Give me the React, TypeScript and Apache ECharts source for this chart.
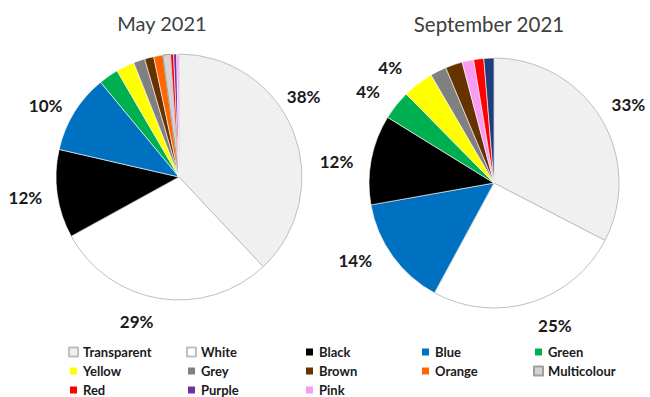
import React, { useEffect, useRef } from "react";
import * as echarts from "echarts";

const mayTitle = "May 2021";
const sepTitle = "September 2021";

const mayNames = ["Transparent", "White", "Black", "Blue", "Green", "Yellow", "Grey", "Brown", "Orange", "Multicolour", "Red", "Purple", "Pink"];
const mayValues = [38, 29, 11.6, 10.4, 2.6, 2.4, 1.5, 1.2, 1.2, 1.0, 0.4, 0.4, 0.3];

const sepNames = ["Transparent", "White", "Blue", "Black", "Green", "Yellow", "Grey", "Brown", "Pink", "Red", "Purple"];
const sepValues = [32.6, 25.3, 14.3, 11.6, 3.8, 4.0, 2.1, 2.2, 1.5, 1.3, 1.3];

const legendColumns = [
  ["Transparent", "Yellow", "Red"],
  ["White", "Grey", "Purple"],
  ["Black", "Brown", "Pink"],
  ["Blue", "Orange"],
  ["Green", "Multicolour"],
];

const COLORS: Record<string, string> = {
  Transparent: "#F0F0F0",
  White: "#FFFFFF",
  Black: "#000000",
  Blue: "#0070C0",
  Green: "#00B050",
  Yellow: "#FFFF00",
  Grey: "#808080",
  Brown: "#663300",
  Orange: "#FF6600",
  Multicolour: "#D4D4D4",
  Red: "#FF0000",
  Purple: "#7030A0",
  Pink: "#F79BF3",
};
const SEP_OVERRIDE: Record<string, string> = { Purple: "#1F3D7A" };
const OUTLINED: Record<string, string> = { Transparent: "#BFBFBF", White: "#BFBFBF", Multicolour: "#A0A0A0" };

// label nudges (px) per series, per data index, applied on top of the pie's own outside placement
const LABEL_NUDGE: Record<number, Record<number, [number, number]>> = {
  0: { 0: [-19, -32], 1: [0, 15], 2: [-2, 2], 3: [0, -3] },
  1: { 0: [-1, -9], 1: [0, 15], 2: [-9, 0], 3: [-5, 3], 4: [-5, -9], 5: [-6, -10] },
};

const FONT = "Lato, 'Open Sans', sans-serif";

function buildData(names: string[], values: number[], override: Record<string, string>) {
  return names.map((n, i) => ({
    name: n,
    value: values[i],
    itemStyle: {
      color: override[n] || COLORS[n],
      borderColor: OUTLINED[n] || "#FFFFFF",
      borderWidth: OUTLINED[n] ? 1 : 0.6,
    },
  }));
}

export default function App() {
  const ref = useRef<HTMLDivElement>(null);
  useEffect(() => {
    if (!ref.current) return;
    const chart = echarts.init(ref.current, undefined, { renderer: "svg" });
    const labelCfg = {
      show: true,
      position: "outside",
      formatter: (p: any) => (p.percent >= 3.5 ? Math.round(p.percent) + "%" : ""),
      fontFamily: FONT,
      fontWeight: "bold",
      fontSize: 17,
      color: "#1A1A1A",
    };
    const labelLayout = (p: any) => {
      const n = LABEL_NUDGE[p.seriesIndex] && LABEL_NUDGE[p.seriesIndex][p.dataIndex];
      return n ? { dx: n[0], dy: n[1] } : {};
    };
    chart.setOption({
      animation: false,
      title: [
        { text: mayTitle, left: 157, top: 8, textAlign: "center", textStyle: { fontFamily: FONT, fontWeight: "normal", fontSize: 20, color: "#404040" } },
        { text: sepTitle, left: 484, top: 8, textAlign: "center", textStyle: { fontFamily: FONT, fontWeight: "normal", fontSize: 20.5, color: "#404040" } },
      ],
      legend: legendColumns.map((col, ci) => ({
        data: col,
        orient: "vertical",
        left: [68, 186, 304, 420, 533][ci],
        top: 345,
        icon: "rect",
        itemWidth: 9,
        itemHeight: 9,
        itemGap: 5,
        padding: 0,
        selectedMode: false,
        textStyle: { fontFamily: FONT, fontSize: 13, fontWeight: "bold", color: "#1A1A1A", lineHeight: 14, padding: [0, 0, 0, 0] },
      })),
      series: [
        {
          type: "pie",
          center: [179, 177],
          radius: 123,
          startAngle: 90,
          clockwise: true,
          avoidLabelOverlap: false,
          label: labelCfg,
          labelLine: { show: false, length: 8, length2: 0 },
          labelLayout,
          emphasis: { disabled: true },
          data: buildData(mayNames, mayValues, {}),
        },
        {
          type: "pie",
          center: [494, 183],
          radius: 125,
          startAngle: 90,
          clockwise: true,
          avoidLabelOverlap: false,
          label: labelCfg,
          labelLine: { show: false, length: 8, length2: 0 },
          labelLayout,
          emphasis: { disabled: true },
          data: buildData(sepNames, sepValues, SEP_OVERRIDE),
        },
      ],
    });
    return () => chart.dispose();
  }, []);
  return <div ref={ref} style={{ width: 650, height: 397, position: "absolute", left: 0, top: 0 }} />;
}
